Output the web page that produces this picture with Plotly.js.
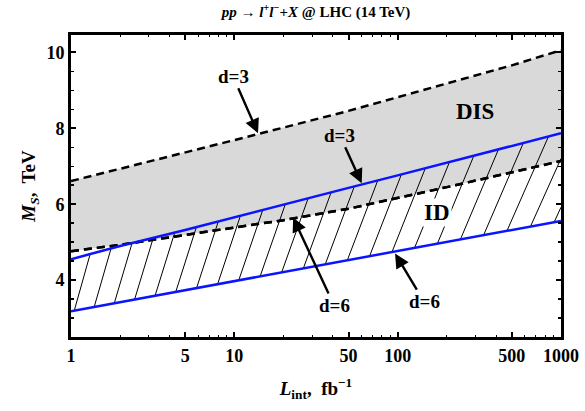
<!DOCTYPE html>
<html><head><meta charset="utf-8">
<script src="https://cdn.plot.ly/plotly-3.0.1.min.js"></script>
<style>body{margin:0;background:#fff}#chart{width:585px;height:411px}</style>
</head><body><div id="chart"></div>
<script>
// ---- data ----
const lumi = [1, 2, 5, 10, 20, 50, 100, 200, 500, 1000];          // L_int, fb^-1
const disUpperD3 = [6.61, 6.93, 7.36, 7.69, 8.02, 8.46, 8.82, 9.18, 9.66, 10.06]; // DIS, d=3
const disLowerD6 = [4.76, 4.93, 5.19, 5.38, 5.58, 5.88, 6.16, 6.45, 6.84, 7.14];  // DIS, d=6
const idUpperD3  = [4.55, 4.90, 5.32, 5.66, 5.99, 6.43, 6.76, 7.10, 7.53, 7.87];  // ID, d=3
const idLowerD6  = [3.18, 3.42, 3.73, 3.97, 4.21, 4.53, 4.77, 5.01, 5.32, 5.56];  // ID, d=6
const xTickVals = [1, 5, 10, 50, 100, 500, 1000];
const xTickText = ['1', '5', '10', '50', '100', '500', '1000'];
const xMinorVals = [2, 3, 4, 6, 7, 8, 9, 20, 30, 40, 60, 70, 80, 90, 200, 300, 400, 600, 700, 800, 900];

// ---- layout geometry ----
const W = 585, H = 411;
const mar = {l: 71, r: 24, t: 35, b: 74};
const xRange = [0, 3];
const yRange = [2.5, 10.46];
const plotW = W - mar.l - mar.r, plotH = H - mar.t - mar.b;
const pxPerDec = plotW / (xRange[1] - xRange[0]);
const pxPerTeV = plotH / (yRange[1] - yRange[0]);

const logL = lumi.map(v => Math.log10(v));
function interp(lx, arr) {
  let i = 0;
  if (lx <= logL[0]) i = 0;
  else if (lx >= logL[logL.length - 1]) i = logL.length - 2;
  else { while (logL[i + 1] < lx) i++; }
  const t = (lx - logL[i]) / (logL[i + 1] - logL[i]);
  return arr[i] + t * (arr[i + 1] - arr[i]);
}

// hatch lines across the ID band (decoration derived from the two ID curves)
const hx = [], hy = [];
let b = 0.02, step = 0.122;
while (b < xRange[1]) {
  const frac = b / 3;
  const slope = 0.28 + 0.18 * frac;            // horizontal px per vertical px
  const k = slope * pxPerTeV / pxPerDec;       // decades per TeV
  const yb = interp(b, idLowerD6);
  let t = b;
  for (let it = 0; it < 8; it++) t = b + k * (interp(t, idUpperD3) - yb);
  let te = t, ye = interp(t, idUpperD3);
  if (t > xRange[1]) { te = xRange[1]; ye = yb + (te - b) / k; }
  hx.push(Math.pow(10, b), Math.pow(10, te), null);
  hy.push(yb, ye, null);
  b += step;
  step += 0.0011;
}

const dashStyle = '8px,5px';
const traces = [
  {x: lumi, y: disLowerD6, mode: 'lines', line: {color: 'black', width: 2.5, dash: dashStyle}, hoverinfo: 'skip'},
  {x: lumi, y: disUpperD3, mode: 'lines', fill: 'tonexty', fillcolor: '#d9d9d9',
   line: {color: 'black', width: 2.5, dash: dashStyle}, hoverinfo: 'skip'},
  {x: hx, y: hy, mode: 'lines', line: {color: 'black', width: 1}, hoverinfo: 'skip'},
  {x: lumi, y: disLowerD6, mode: 'lines', line: {color: 'black', width: 2.5, dash: dashStyle}, hoverinfo: 'skip'},
  {x: lumi, y: idUpperD3, mode: 'lines', line: {color: '#0a14ff', width: 2.5}, hoverinfo: 'skip'},
  {x: lumi, y: idLowerD6, mode: 'lines', line: {color: '#0a14ff', width: 2.5}, hoverinfo: 'skip'}
];

const serif = 'Liberation Serif, Times New Roman, serif';
const annFont = {family: serif, size: 19, color: 'black', weight: 'bold'};
function arrowAnn(text, lx, y, ax, ay) {
  return {x: lx, y: y, xref: 'x', yref: 'y', text: text, showarrow: true, ax: ax, ay: ay,
          arrowhead: 2, arrowsize: 1.2, arrowwidth: 2.4, arrowcolor: 'black', standoff: 0,
          font: annFont};
}

const layout = {
  width: W, height: H, margin: mar, showlegend: false,
  paper_bgcolor: 'white', plot_bgcolor: 'white',
  title: {text: '<i>pp</i> → <i>l</i><sup>+</sup><i>l</i><sup>−</sup>+<i>X</i> @ LHC (14 TeV)',
          font: {family: serif, size: 15, color: 'black', weight: 'bold'},
          x: 0.5, xref: 'paper', y: 1 - 12 / H, yref: 'container', yanchor: 'middle'},
  xaxis: {type: 'log', range: xRange, tickvals: xTickVals, ticktext: xTickText,
          ticks: 'inside', ticklen: 5, tickwidth: 2, tickcolor: 'black',
          minor: {tickvals: xMinorVals, ticks: 'inside', ticklen: 2, tickwidth: 1, tickcolor: 'black'},
          showline: true, linewidth: 3, linecolor: 'black', mirror: 'allticks',
          showgrid: false, zeroline: false,
          tickfont: {family: serif, size: 18, color: 'black', weight: 'bold'},
          title: {text: '<i>L</i><sub>int</sub>,  fb<sup>−1</sup>', standoff: 18,
                  font: {family: serif, size: 19, color: 'black', weight: 'bold'}}},
  yaxis: {range: yRange, tickvals: [4, 6, 8, 10], ticks: 'inside', ticklen: 5, tickwidth: 2, tickcolor: 'black',
          minor: {dtick: 0.5, tick0: 0, ticks: 'inside', ticklen: 3, tickwidth: 1.5, tickcolor: 'black'},
          showline: true, linewidth: 3, linecolor: 'black', mirror: 'allticks',
          showgrid: false, zeroline: false,
          tickfont: {family: serif, size: 18, color: 'black', weight: 'bold'},
          title: {text: '<i>M</i><sub><i>S</i></sub>,  TeV', standoff: 6,
                  font: {family: serif, size: 19, color: 'black', weight: 'bold'}}},
  annotations: [
    arrowAnn('d=3', 1.145, 7.87, -25, -57),
    arrowAnn('d=3', 1.78, 6.55, -22, -48),
    arrowAnn('d=6', 1.36, 5.65, 41, 88),
    arrowAnn('d=6', 1.984, 4.70, 29, 48),
    {x: 2.474, y: 8.45, xref: 'x', yref: 'y', text: 'DIS', showarrow: false,
     font: {family: serif, size: 23, color: 'black', weight: 'bold'}},
    {x: 2.241, y: 5.78, xref: 'x', yref: 'y', text: 'ID', showarrow: false, bgcolor: 'white',
     font: {family: serif, size: 23, color: 'black', weight: 'bold'}}
  ]
};

Plotly.newPlot('chart', traces, layout, {staticPlot: true, displayModeBar: false});
</script>
</body></html>
